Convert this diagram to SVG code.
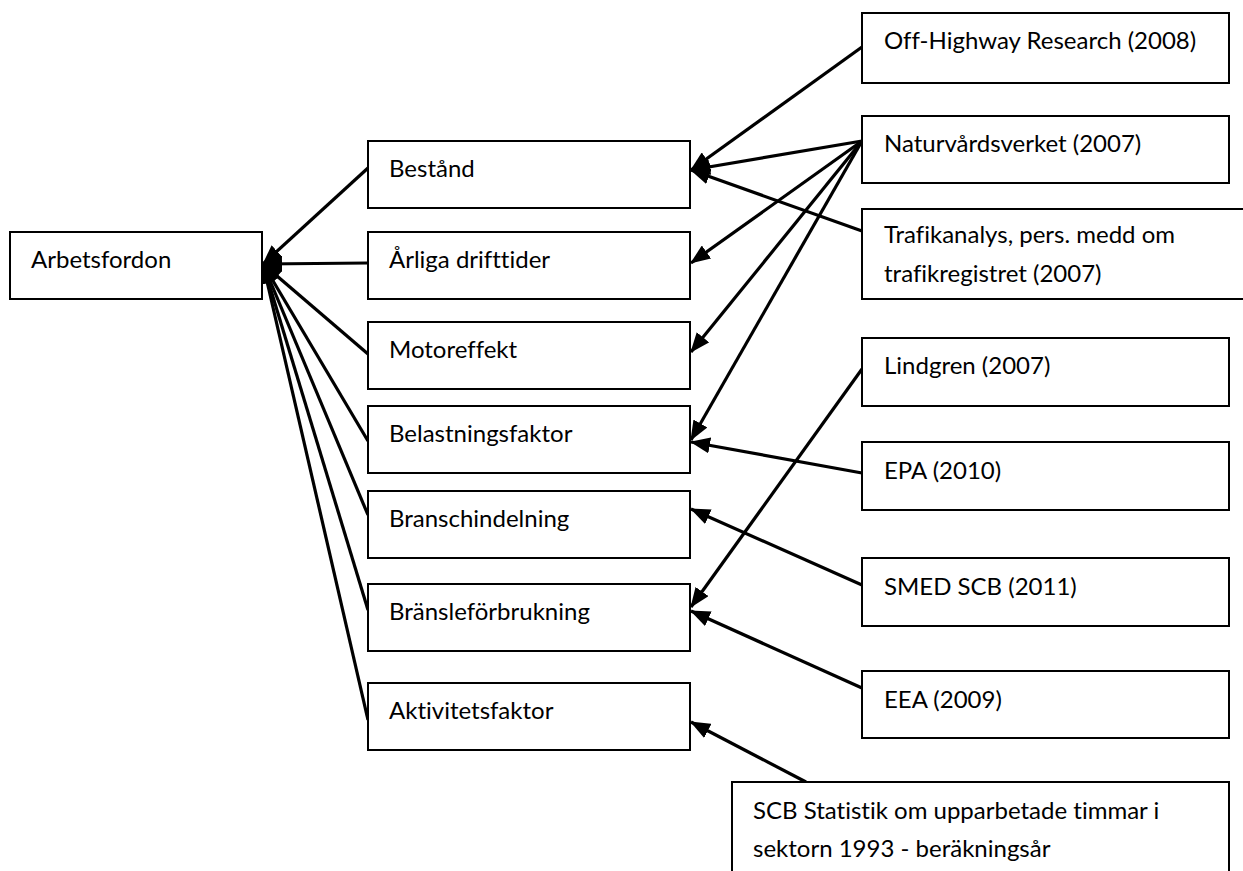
<svg xmlns="http://www.w3.org/2000/svg" width="1243" height="871" viewBox="0 0 1243 871">
  <style>
    .box { fill: #ffffff; stroke: #000000; stroke-width: 2; }
    .lbl { font-family: Lato, "Liberation Sans", sans-serif; font-size: 24px; fill: #000000; font-variant-ligatures: none; }
    .link { stroke: #000000; stroke-width: 3.2; fill: none; marker-end: url(#head); }
  </style>
  <defs>
    <marker id="head" markerUnits="userSpaceOnUse" markerWidth="20" markerHeight="16" refX="19" refY="8" orient="auto">
      <path d="M0,0 L20,8 L0,16 z" fill="#000000"/>
    </marker>
  </defs>

  <!-- connectors -->
  <g id="connectors">
    <!-- parameters feeding the vehicle category -->
    <line class="link" x1="368" y1="168" x2="263" y2="264"/>
    <line class="link" x1="368" y1="263" x2="263" y2="264"/>
    <line class="link" x1="368" y1="354" x2="263" y2="264"/>
    <line class="link" x1="368" y1="441" x2="263" y2="264"/>
    <line class="link" x1="368" y1="515" x2="263" y2="264"/>
    <line class="link" x1="368" y1="610" x2="263" y2="264"/>
    <line class="link" x1="368" y1="720" x2="263" y2="264"/>
    <!-- sources feeding the parameters -->
    <line class="link" x1="862" y1="47" x2="691" y2="170"/>
    <line class="link" x1="862" y1="141" x2="691" y2="170"/>
    <line class="link" x1="862" y1="231" x2="691" y2="170"/>
    <line class="link" x1="862" y1="141" x2="691" y2="263"/>
    <line class="link" x1="862" y1="141" x2="691" y2="352"/>
    <line class="link" x1="862" y1="141" x2="691" y2="440"/>
    <line class="link" x1="862" y1="473" x2="691" y2="442"/>
    <line class="link" x1="862" y1="585" x2="691" y2="509"/>
    <line class="link" x1="862" y1="369" x2="691" y2="607"/>
    <line class="link" x1="862" y1="688" x2="691" y2="611"/>
    <line class="link" x1="806" y1="782" x2="691" y2="722"/>
  </g>

  <g id="arbetsfordon">
    <rect class="box" x="10" y="232" width="252" height="67"/>
    <text class="lbl" x="31" y="268">Arbetsfordon</text>
  </g>

  <g id="bestand">
    <rect class="box" x="368" y="141" width="322" height="67"/>
    <text class="lbl" x="389" y="177">Bestånd</text>
  </g>
  <g id="arliga-drifttider">
    <rect class="box" x="368" y="232" width="322" height="67"/>
    <text class="lbl" x="389" y="268">Årliga drifttider</text>
  </g>
  <g id="motoreffekt">
    <rect class="box" x="368" y="322" width="322" height="67"/>
    <text class="lbl" x="389" y="358">Motoreffekt</text>
  </g>
  <g id="belastningsfaktor">
    <rect class="box" x="368" y="406" width="322" height="67"/>
    <text class="lbl" x="389" y="442">Belastningsfaktor</text>
  </g>
  <g id="branschindelning">
    <rect class="box" x="368" y="491" width="322" height="67"/>
    <text class="lbl" x="389" y="527">Branschindelning</text>
  </g>
  <g id="bransleforbrukning">
    <rect class="box" x="368" y="584" width="322" height="67"/>
    <text class="lbl" x="389" y="620">Bränsleförbrukning</text>
  </g>
  <g id="aktivitetsfaktor">
    <rect class="box" x="368" y="683" width="322" height="67"/>
    <text class="lbl" x="389" y="719">Aktivitetsfaktor</text>
  </g>

  <g id="off-highway">
    <rect class="box" x="862" y="13" width="367" height="70"/>
    <text class="lbl" x="884" y="49">Off-Highway Research (2008)</text>
  </g>
  <g id="naturvardsverket">
    <rect class="box" x="862" y="116" width="367" height="67"/>
    <text class="lbl" x="884" y="152">Naturvårdsverket (2007)</text>
  </g>
  <g id="trafikanalys">
    <rect class="box" x="862" y="209" width="400" height="90"/>
    <text class="lbl" x="884" y="243">Trafikanalys, pers. medd om</text>
    <text class="lbl" x="884" y="282">trafikregistret (2007)</text>
  </g>
  <g id="lindgren">
    <rect class="box" x="862" y="338" width="367" height="68"/>
    <text class="lbl" x="884" y="374">Lindgren (2007)</text>
  </g>
  <g id="epa">
    <rect class="box" x="862" y="442" width="367" height="68"/>
    <text class="lbl" x="884" y="479">EPA (2010)</text>
  </g>
  <g id="smed-scb">
    <rect class="box" x="862" y="558" width="367" height="68"/>
    <text class="lbl" x="884" y="595">SMED SCB (2011)</text>
  </g>
  <g id="eea">
    <rect class="box" x="862" y="671" width="367" height="67"/>
    <text class="lbl" x="884" y="708">EEA (2009)</text>
  </g>
  <g id="scb-statistik">
    <rect class="box" x="732" y="782" width="497" height="100"/>
    <text class="lbl" x="753" y="819">SCB Statistik om upparbetade timmar i</text>
    <text class="lbl" x="753" y="857">sektorn 1993 - beräkningsår</text>
  </g>
</svg>
